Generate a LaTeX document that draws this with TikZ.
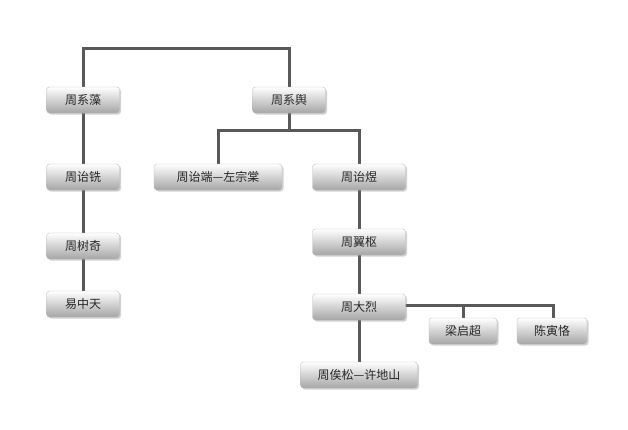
\documentclass[tikz,border=0pt]{standalone}
\usepackage{fontspec}
\newfontfamily\cjk{Noto Sans CJK SC}
\usetikzlibrary{shadows}
\tikzset{
  box/.style={rounded corners=3pt, minimum height=26pt, inner xsep=6pt,
    top color=white, bottom color=black!35, draw=black!25, line width=0.4pt,
    drop shadow={shadow xshift=1.5pt, shadow yshift=-1.5pt, opacity=0.35},
    font=\cjk\fontsize{12}{14}\selectfont, text=black!85},
  link/.style={draw=black!65, line width=3pt}
}
\begin{document}
\begin{tikzpicture}[x=1pt,y=-1pt]
\useasboundingbox[fill=white] (0,0) rectangle (628,429);
\draw[link] (83,100) -- (83,48) -- (289,48) -- (289,100);
\draw[link] (289,100) -- (289,130) coordinate (j1);
\draw[link] (218,177) -- (218,130) -- (359,130) -- (359,177);
\draw[link] (83,100) -- (83,304);
\draw[link] (359,177) -- (359,375);
\draw[link] (359,305) -- (553,305) -- (553,331);
\draw[link] (463,305) -- (463,331);
\node[box, minimum width=73pt] (a) at (83,100) {周系藻};
\node[box, minimum width=73pt] (b) at (289,100) {周系舆};
\node[box, minimum width=128pt] (c) at (218,177) {周诒端—左宗棠};
\node[box, minimum width=93pt] (d) at (359,177) {周诒煜};
\node[box, minimum width=73pt] (e) at (83,177) {周诒铣};
\node[box, minimum width=73pt] (f) at (83,246) {周树奇};
\node[box, minimum width=73pt] (g) at (83,304) {易中天};
\node[box, minimum width=93pt] (h) at (359,242) {周翼枢};
\node[box, minimum width=93pt] (i) at (359,307) {周大烈};
\node[box, minimum width=68pt] (k) at (463,331) {梁启超};
\node[box, minimum width=70pt] (l) at (552,331) {陈寅恪};
\node[box, minimum width=117pt] (m) at (359,375) {周俟松—许地山};
\end{tikzpicture}
\end{document}
